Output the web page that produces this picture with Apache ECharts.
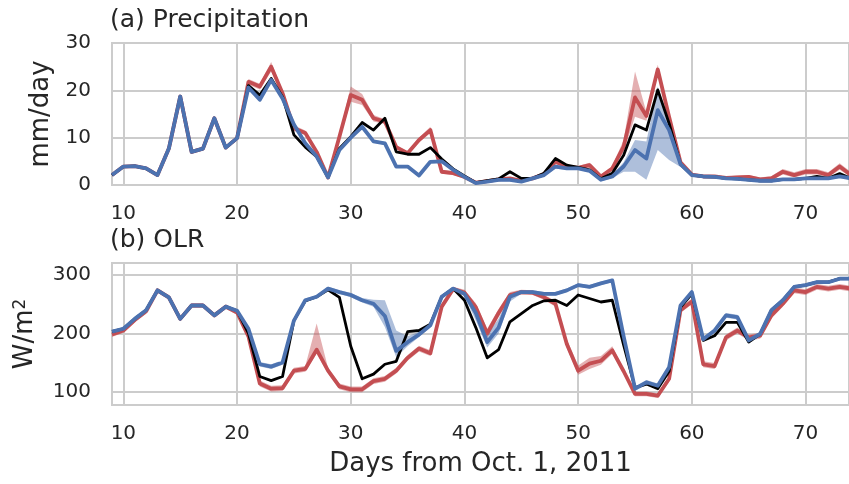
<!DOCTYPE html>
<html>
<head>
<meta charset="utf-8">
<script src="https://cdn.jsdelivr.net/npm/echarts@6/dist/echarts.min.js"></script>
<style>
html, body { margin: 0; padding: 0; background: #fff; }
#chart { width: 849px; height: 484px; }
</style>
</head>
<body>
<div id="chart"></div>
<script>
// days from Oct. 1, 2011
var days = [9,10,11,12,13,14,15,16,17,18,19,20,21,22,23,24,25,26,27,28,29,30,31,32,33,34,35,36,37,38,39,40,41,42,43,44,45,46,47,48,49,50,51,52,53,54,55,56,57,58,59,60,61,62,63,64,65,66,67,68,69,70,71,72,73,74];
var xTicks = [10, 20, 30, 40, 50, 60, 70];
var olrTicks = [100, 200, 300];

// (a) precipitation, mm/day
var precipObs  = [2.1,3.9,4.0,3.5,2.1,7.7,18.7,7.0,7.7,14.1,7.9,9.9,21.0,19.0,22.5,18.6,10.6,8.0,6.0,1.6,7.7,10.2,13.2,11.6,14.1,7.0,6.5,6.5,7.9,5.5,3.4,1.9,0.5,0.9,1.3,2.8,1.4,1.4,2.5,5.6,4.2,3.7,3.2,1.3,2.5,6.3,12.7,11.6,20.1,13.0,4.4,2.1,1.8,1.7,1.4,1.3,1.1,0.9,0.9,1.2,1.2,1.4,1.8,1.4,2.4,1.4];
var precipRed  = [2.1,3.9,4.0,3.5,2.1,7.7,18.7,7.0,7.7,14.1,7.9,9.9,21.8,20.8,25.0,19.4,12.0,11.0,7.0,1.6,10.2,19.0,18.0,14.1,13.4,8.0,6.7,9.5,11.6,2.8,2.5,1.7,0.5,0.8,1.2,1.4,0.9,1.4,2.3,4.9,3.9,3.6,4.2,1.8,3.5,8.1,18.5,14.6,24.4,14.4,4.8,2.2,1.8,1.8,1.5,1.6,1.7,1.2,1.4,2.8,2.1,2.8,2.8,2.1,3.9,2.1];
var precipRedLo = [1.8,3.6,3.7,3.2,1.8,7.3,18.3,6.6,7.3,13.7,7.5,9.5,21.2,20.2,24.0,18.8,11.4,10.5,6.6,1.3,9.5,17.6,16.9,13.4,12.9,7.6,6.3,9.0,11.0,2.4,2.1,1.4,0.3,0.5,0.9,1.1,0.6,1.1,2.0,4.5,3.5,3.2,3.7,1.4,3.0,7.0,14.4,13.6,23.3,13.5,4.3,1.9,1.5,1.5,1.2,1.2,1.3,0.8,1.0,2.2,1.6,2.2,2.2,1.6,3.2,1.6];
var precipRedHi = [2.4,4.2,4.3,3.8,2.4,8.1,19.1,7.4,8.1,14.5,8.3,10.3,22.4,21.4,26.0,20.0,12.6,11.5,7.4,1.9,10.8,20.8,19.2,14.8,13.9,8.4,7.1,10.0,12.3,3.2,2.9,2.0,0.8,1.1,1.5,1.7,1.2,1.7,2.6,5.3,4.3,4.0,4.7,2.2,4.0,9.5,24.0,15.4,25.4,15.3,5.3,2.5,2.1,2.1,1.8,2.0,2.1,1.6,1.9,3.4,2.7,3.4,3.4,2.7,4.6,2.7];
var precipBlue = [2.1,3.9,4.0,3.5,2.1,7.7,18.7,7.0,7.7,14.1,7.9,9.9,20.6,18.0,22.2,18.3,12.8,8.8,6.0,1.6,7.4,10.0,12.3,9.2,8.8,3.9,3.9,2.0,4.9,5.0,3.2,1.7,0.4,0.7,1.1,1.1,0.7,1.4,2.1,3.9,3.5,3.5,3.0,1.1,1.8,3.9,7.4,5.6,15.8,11.6,4.4,2.1,1.8,1.7,1.4,1.3,1.1,0.9,0.9,1.2,1.2,1.4,1.4,1.4,1.8,1.4];
var precipBlueLo = [1.8,3.6,3.7,3.2,1.8,7.4,18.4,6.7,7.4,13.8,7.6,9.6,20.3,17.6,21.8,18.0,12.4,8.5,5.7,1.3,7.1,9.7,12.0,8.9,8.5,3.6,3.6,1.7,4.6,4.7,2.9,1.4,0.2,0.4,0.8,0.8,0.4,1.1,1.8,3.5,3.2,3.2,2.7,0.8,1.4,2.8,2.8,1.1,7.4,5.3,3.8,1.8,1.5,1.4,1.1,1.0,0.8,0.6,0.6,0.9,0.9,1.1,1.1,1.1,1.5,1.1];
var precipBlueHi = [2.4,4.2,4.3,3.8,2.4,8.0,19.0,7.3,8.0,14.4,8.2,10.2,20.9,18.4,22.6,18.6,13.2,9.1,6.3,1.9,7.7,10.3,12.6,9.5,9.1,4.2,4.2,2.3,5.2,5.3,3.5,2.0,0.6,1.0,1.4,1.4,1.0,1.7,2.4,4.3,3.8,3.8,3.3,1.4,2.2,4.8,9.5,9.2,20.8,13.0,5.0,2.4,2.1,2.0,1.7,1.6,1.4,1.2,1.2,1.5,1.5,1.7,1.7,1.7,2.1,1.7];

// (b) OLR, W/m2
var olrObs  = [203,208,225,240,274,262,225,248,248,231,246,239,200,126,119,126,222,256,263,275,262,178,122,130,147,152,203,205,216,263,277,257,210,158,172,220,234,248,256,257,248,266,260,254,257,180,107,113,105,135,245,268,188,196,219,219,185,199,240,257,280,283,288,288,294,294];
var olrRed  = [198,205,223,238,274,262,225,248,248,231,246,236,195,114,105,106,136,139,172,136,109,104,104,118,122,136,158,174,166,246,276,270,245,200,235,266,271,270,262,251,182,136,148,153,171,135,96,96,93,122,240,255,147,144,193,205,193,196,231,251,274,271,280,277,280,277];
var olrRedLo = [194,201,219,234,270,258,221,244,244,227,242,232,190,109,100,101,131,134,165,131,104,99,99,113,117,131,153,169,161,241,272,265,238,192,228,261,267,266,258,246,175,129,139,146,165,130,92,92,89,117,235,250,142,139,188,200,188,191,226,246,269,266,275,272,275,272];
var olrRedHi = [202,209,227,242,278,266,229,252,252,235,250,240,200,119,110,111,141,144,217,141,114,109,109,123,127,141,163,179,171,251,280,275,252,208,242,271,275,274,266,256,190,145,158,161,178,140,100,100,97,127,245,260,152,149,198,210,198,201,236,256,279,276,285,282,285,282];
var olrBlue = [203,208,225,240,274,262,225,248,248,231,246,239,208,147,143,150,222,257,263,277,271,266,257,251,230,170,185,198,214,263,277,268,235,185,210,263,271,271,268,268,274,283,280,286,291,195,105,116,110,142,248,271,190,205,231,228,188,199,240,257,280,283,288,288,294,294];
var olrBlueLo = [200,205,222,237,271,259,222,245,245,228,243,236,204,143,139,146,218,254,260,274,268,262,253,246,211,159,178,194,210,260,274,264,222,176,200,255,268,268,265,265,271,280,277,283,288,190,101,112,106,138,244,268,186,201,227,224,184,195,236,253,277,280,285,285,291,291];
var olrBlueHi = [206,211,228,243,277,265,228,251,251,234,249,242,212,151,147,154,226,260,266,280,274,270,261,258,257,205,195,203,218,266,280,272,245,199,225,268,274,274,271,271,277,286,283,289,294,200,109,120,114,146,252,274,194,209,235,232,192,203,244,261,283,286,291,291,297,297];

var FONT = 'DejaVu Sans';
var TXT = '#262626';
var RED = '#c44e52';
var BLUE = '#4c72b0';

function pairs(vals) {
    return days.map(function (d, i) { return [d, vals[i]]; });
}

// ensemble spread: one polygon from the hi edge forward and the lo edge back
function band(idx, lo, hi, color) {
    return {
        type: 'custom', xAxisIndex: idx, yAxisIndex: idx, silent: true,
        data: pairs(lo),
        encode: { x: 0, y: 1 },
        renderItem: function (params, api) {
            if (params.dataIndex !== 0) return null;
            var pts = [];
            for (var i = 0; i < days.length; i++) pts.push(api.coord([days[i], hi[i]]));
            for (var j = days.length - 1; j >= 0; j--) pts.push(api.coord([days[j], lo[j]]));
            return {
                type: 'polygon',
                shape: { points: pts },
                style: { fill: color, opacity: 0.45 }
            };
        }
    };
}

function line(idx, vals, color, width) {
    return {
        type: 'line', xAxisIndex: idx, yAxisIndex: idx,
        data: pairs(vals), symbol: 'none', silent: true,
        lineStyle: { color: color, width: width, join: 'round' }
    };
}

function xAxis(idx, withName) {
    var ax = {
        type: 'value', gridIndex: idx, min: 9, max: 73.82,
        axisLine: { show: false },
        axisTick: { show: false, customValues: xTicks },
        axisLabel: { customValues: xTicks, fontFamily: FONT, fontSize: 20, color: TXT, margin: 19 },
        splitLine: { show: true, lineStyle: { color: '#cccccc', width: 2 } }
    };
    if (withName) {
        ax.name = 'Days from Oct. 1, 2011';
        ax.nameLocation = 'middle';
        ax.nameGap = 46;
        ax.nameTextStyle = { fontFamily: FONT, fontSize: 26, color: TXT };
    }
    return ax;
}

var chart = echarts.init(document.getElementById('chart'), null, { renderer: 'canvas' });

var series = [
    band(0, precipRedLo, precipRedHi, RED),
    band(0, precipBlueLo, precipBlueHi, BLUE),
    line(0, precipRed, RED, 3.8),
    line(0, precipObs, '#000', 2.8),
    line(0, precipBlue, BLUE, 3.8),
    band(1, olrRedLo, olrRedHi, RED),
    band(1, olrBlueLo, olrBlueHi, BLUE),
    line(1, olrRed, RED, 3.8),
    line(1, olrObs, '#000', 2.8),
    line(1, olrBlue, BLUE, 3.8)
];

var option = {
    backgroundColor: '#ffffff',
    animation: false,
    title: [{
        text: '(a) Precipitation', left: 110, top: 8, padding: 0,
        textStyle: { fontFamily: FONT, fontSize: 25, fontWeight: 'normal', color: TXT }
    }, {
        text: '(b) OLR', left: 110, top: 228, padding: 0,
        textStyle: { fontFamily: FONT, fontSize: 25, fontWeight: 'normal', color: TXT }
    }],
    grid: [
        { left: 112, right: -2, top: 43, height: 142, show: true, borderColor: '#cccccc', borderWidth: 2, backgroundColor: '#fff' },
        { left: 112, right: -2, top: 263, height: 142, show: true, borderColor: '#cccccc', borderWidth: 2, backgroundColor: '#fff' }
    ],
    xAxis: [xAxis(0, false), xAxis(1, true)],
    yAxis: [{
        type: 'value', gridIndex: 0, min: 0, max: 30, interval: 10,
        name: 'mm/day', nameLocation: 'middle', nameGap: 54, nameRotate: 90,
        nameTextStyle: { fontFamily: FONT, fontSize: 26, color: TXT },
        axisLine: { show: false }, axisTick: { show: false },
        axisLabel: { fontFamily: FONT, fontSize: 20, color: TXT, margin: 21 },
        splitLine: { lineStyle: { color: '#cccccc', width: 2 } }
    }, {
        type: 'value', gridIndex: 1, min: 77, max: 321,
        name: 'W/m{sup|2}', nameLocation: 'middle', nameGap: 73, nameRotate: 90,
        nameTextStyle: {
            fontFamily: FONT, fontSize: 26, color: TXT,
            rich: { sup: { fontFamily: FONT, fontSize: 17, color: TXT, verticalAlign: 'top', padding: [0, 0, 10, 0] } }
        },
        axisLine: { show: false },
        axisTick: { show: false, customValues: olrTicks },
        axisLabel: { customValues: olrTicks, fontFamily: FONT, fontSize: 20, color: TXT, margin: 21 },
        splitLine: { lineStyle: { color: '#cccccc', width: 2 } }
    }],
    series: series
};
chart.setOption(option);
</script>
</body>
</html>
